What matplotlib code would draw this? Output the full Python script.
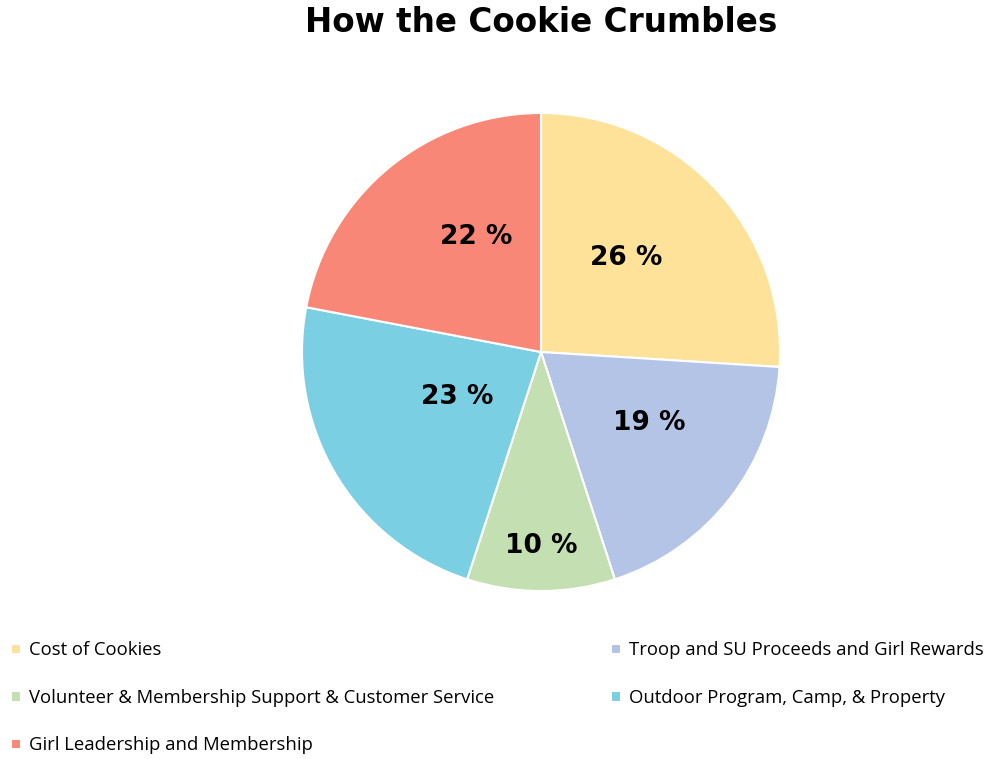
import matplotlib
matplotlib.use("Agg")
import matplotlib.pyplot as plt
import numpy as np

categories = ["Cost of Cookies",
              "Troop and SU Proceeds and Girl Rewards",
              "Volunteer & Membership Support & Customer Service",
              "Outdoor Program, Camp, & Property",
              "Girl Leadership and Membership"]
values = [26, 19, 10, 23, 22]
colors = ["#FEE29A", "#B3C4E6", "#C4DFB1", "#7BCFE2", "#F98778"]
label_dist = [0.53, 0.54, 0.81, 0.40, 0.55]
label_ang_shift = [4.7, 4.5, 0.0, -2.4, -10.3]

W, H = 989, 759
fig = plt.figure(figsize=(W / 100, H / 100), dpi=100)
cx, cy, r = 541, 352, 239
ax = fig.add_axes([(cx - r) / W, (H - cy - r) / H, 2 * r / W, 2 * r / H])
wedges, _ = ax.pie(values, colors=colors, startangle=90, counterclock=False,
                   radius=1, wedgeprops=dict(edgecolor="white", linewidth=1.5))
ax.set_xlim(-1, 1)
ax.set_ylim(-1, 1)
ax.set_aspect("equal")
ax.axis("off")

for w, v, d, s in zip(wedges, values, label_dist, label_ang_shift):
    ang = np.deg2rad((w.theta1 + w.theta2) / 2 + s)
    ax.text(d * np.cos(ang), d * np.sin(ang), f"{v} %", ha="center", va="center",
            fontsize=19, fontweight="heavy", family="DejaVu Sans", color="black")

fig.text(541 / W, 1 - 23 / H, "How the Cookie Crumbles", ha="center", va="center",
         fontsize=23.5, fontweight="heavy", family="DejaVu Sans")

order = [0, 2, 4, 1, 3]
fig.legend([wedges[i] for i in order], [categories[i] for i in order],
           ncol=2, loc="upper left", bbox_to_anchor=(4 / W, 1 - 634 / H),
           frameon=False, prop=dict(family="Open Sans", size=13.3),
           handlelength=0.5, handleheight=0.5, handletextpad=0.45,
           labelspacing=1.6, columnspacing=6.35, borderaxespad=0)

fig.savefig("out.png", dpi=100, facecolor="white")
